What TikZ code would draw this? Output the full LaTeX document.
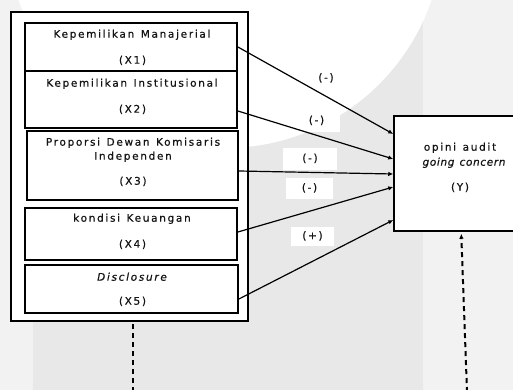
\documentclass[tikz,border=0pt]{standalone}
\usepackage{fontspec}
\setmainfont{DejaVu Sans}[LetterSpace=16, WordSpace=1.3, FakeBold=0.6]
\usetikzlibrary{arrows.meta,calc}
\definecolor{bgA}{HTML}{F2F2F2}
\definecolor{bgB}{HTML}{E8E8E8}
\definecolor{ink}{HTML}{141414}
\begin{document}
\begin{tikzpicture}[x=1pt,y=-1pt,
  txt/.style={font=\fontsize{10.5}{14}\selectfont, text=ink, inner sep=0pt, text height=7.7pt, text depth=2.3pt},
  box/.style={draw=black, line width=1.8pt, fill=white, inner sep=0pt},
  lab/.style={txt, fill=white},
  arr/.style={draw=black, line width=1.2pt, -{Latex[length=5pt,width=4.5pt]}},
  dsh/.style={draw=black, line width=2pt, dash pattern=on 5pt off 4pt}]
\useasboundingbox (0,0) rectangle (513,390);
\clip (0,0) rectangle (513,390);
% background
\fill[bgA] (0,0) rectangle (513,390);
\fill[bgB] (33,0) rectangle (423,390);
\fill[white] (225,-70) circle [radius=218pt];
% outer frame
\node[box, line width=2pt, minimum width=237pt, minimum height=309pt] (outer) at (129.5,166.5) {};
% independent variable boxes
\node[box, minimum width=212pt, minimum height=48pt] (x1) at (131,47) {};
\node[box, minimum width=212pt, minimum height=57pt] (x2) at (131,99.5) {};
\node[box, minimum width=211pt, minimum height=69pt] (x3) at (132.5,165.5) {};
\node[box, minimum width=212pt, minimum height=52pt] (x4) at (131,234) {};
\node[box, minimum width=213pt, minimum height=48pt] (x5) at (131.5,289) {};
% dependent box
\node[box, line width=1.5pt, minimum width=146pt, minimum height=115pt] (y) at (467,173.5) {};
% texts
\node[txt] (x1a) at (132,35) {Kepemilikan Manajerial};
\node[txt] (x1b) at (132.5,61) {(X1)};
\node[txt] (x2a) at (132,84) {Kepemilikan Institusional};
\node[txt] (x2b) at (132.5,110) {(X2)};
\node[txt] (x3a) at (133,143) {Proporsi Dewan Komisaris};
\node[txt] (x3b) at (133,157) {Independen};
\node[txt] (x3c) at (133,182) {(X3)};
\node[txt] (x4a) at (132,219) {kondisi Keuangan};
\node[txt] (x4b) at (132.5,245) {(X4)};
\node[txt] (x5a) at (132,278) {\itshape Disclosure};
\node[txt] (x5b) at (132.5,302) {(X5)};
\node[txt] (ya) at (460,148) {opini audit};
\node[txt] (yb) at (464,163) {\itshape\addfontfeature{LetterSpace=6}going concern};
\node[txt] (yc) at (460,188) {(Y)};
% labels
\node[lab, minimum width=47pt, minimum height=23pt] (l1) at (326,78.5) {(-)};
\node[lab, minimum width=47pt, minimum height=22pt] (l2) at (316.5,121) {(-)};
\node[lab, minimum width=54pt, minimum height=22pt] (l3) at (310,159) {(-)};
\node[lab, minimum width=47pt, minimum height=21pt] (l4) at (309.5,188.5) {(-)};
\node[lab, minimum width=43pt, minimum height=19pt] (l5) at (312.5,236.5) {(+)};
% arrows
\draw[arr] (x1.east) -- ($(y.west)+(0,-39.5)$);
\draw[arr] ($(x2.east)+(0,11.5)$) -- ($(y.west)+(0,-14.5)$);
\draw[arr] ($(x3.east)+(0,5.5)$) -- ($(y.west)+(0,0.5)$);
\draw[arr] ($(x4.east)+(0,-2)$) -- ($(y.west)+(0,13.5)$);
\draw[arr] ($(x5.east)+(0,10)$) -- ($(y.west)+(0,46.5)$);
% dashed lines
\coordinate (b1) at (133,392);
\coordinate (b2) at (467,392);
\draw[dsh] ($(outer.south)+(3.5,2)$) -- (b1);
\draw[dsh, -{Latex[length=5pt,width=4.5pt]}] (b2) -- ($(y.south west)+(68,2)$);
\end{tikzpicture}
\end{document}
